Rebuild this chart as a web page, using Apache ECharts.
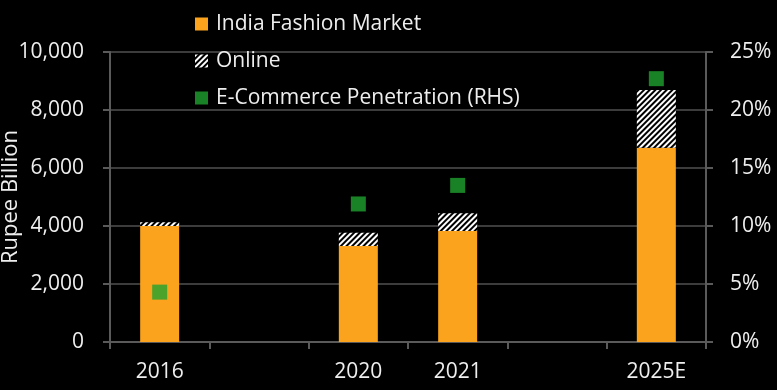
<!DOCTYPE html>
<html>
<head>
<meta charset="utf-8">
<script src="https://cdn.jsdelivr.net/npm/echarts@6/dist/echarts.min.js"></script>
<style>
html,body{margin:0;padding:0;background:#000;}
#chart{width:777px;height:390px;}
</style>
</head>
<body>
<div id="chart"></div>
<script>
var categories = ['2016', '', '2020', '2021', '', '2025E'];
var marketValues = [4000, '-', 3310, 3830, '-', 6700];
var onlineValues = [130, '-', 460, 610, '-', 1990];
var penetrationValues = [4.3, '-', 11.9, 13.5, '-', 22.7];
var leftTicks = [0, 2000, 4000, 6000, 8000, 10000];
var rightTicks = [0, 5, 10, 15, 20, 25];

var FONT = 'Open Sans';
var TXT = '#eeeeee';
var AXIS = '#5a5a5a';
var GRID = '#3c3c3c';

var chart = echarts.init(document.getElementById('chart'), null, {renderer: 'canvas'});
chart.setOption({
  backgroundColor: '#000000',
  animation: false,
  textStyle: {fontFamily: FONT},
  grid: {left: 110, right: 71, top: 52, bottom: 48, containLabel: false, outerBoundsMode: 'none'},
  legend: {
    orient: 'vertical',
    left: 190,
    top: 7,
    itemWidth: 13,
    itemHeight: 13,
    itemGap: 13,
    icon: 'rect',
    textStyle: {color: TXT, fontSize: 21, fontFamily: FONT, lineHeight: 24, padding: [0, 0, 0, 3]},
    data: ['India Fashion Market', 'Online', 'E-Commerce Penetration (RHS)']
  },
  xAxis: {
    type: 'category',
    data: categories,
    boundaryGap: true,
    axisLine: {lineStyle: {color: AXIS, width: 2}},
    axisTick: {show: true, interval: 0, length: 7, lineStyle: {color: AXIS, width: 2}},
    axisLabel: {color: TXT, fontSize: 21, fontFamily: FONT, margin: 20, interval: 0}
  },
  yAxis: [{
    type: 'value',
    min: leftTicks[0],
    max: leftTicks[leftTicks.length - 1],
    interval: leftTicks[1] - leftTicks[0],
    name: 'Rupee Billion',
    nameLocation: 'middle',
    nameGap: 88,
    nameMoveOverlap: false,
    nameTextStyle: {color: TXT, fontSize: 22, fontFamily: FONT},
    axisLine: {show: true, lineStyle: {color: AXIS, width: 2}},
    axisTick: {show: true, length: 7, lineStyle: {color: AXIS, width: 2}},
    axisLabel: {color: TXT, fontSize: 21, fontFamily: FONT, margin: 26,
      formatter: function (v) { return v.toLocaleString('en-US'); }},
    splitLine: {show: true, lineStyle: {color: GRID, width: 2}}
  }, {
    type: 'value',
    min: rightTicks[0],
    max: rightTicks[rightTicks.length - 1],
    interval: rightTicks[1] - rightTicks[0],
    position: 'right',
    axisLine: {show: true, lineStyle: {color: AXIS, width: 2}},
    axisTick: {show: true, length: 7, lineStyle: {color: AXIS, width: 2}},
    axisLabel: {color: TXT, fontSize: 21, fontFamily: FONT, margin: 24, formatter: '{value}%'},
    splitLine: {show: false}
  }],
  series: [{
    name: 'India Fashion Market',
    type: 'bar',
    stack: 'total',
    barWidth: 39,
    data: marketValues,
    itemStyle: {color: '#FBA31C'}
  }, {
    name: 'Online',
    type: 'bar',
    stack: 'total',
    barWidth: 39,
    data: onlineValues,
    itemStyle: {
      color: '#000000',
      decal: {
        symbol: 'rect',
        symbolSize: 1,
        dashArrayX: [1, 0],
        dashArrayY: [1.8, 1.6],
        rotation: -Math.PI / 4,
        color: '#ffffff'
      }
    }
  }, {
    name: 'E-Commerce Penetration (RHS)',
    type: 'scatter',
    yAxisIndex: 1,
    symbol: 'rect',
    symbolSize: 15,
    data: penetrationValues,
    itemStyle: {color: '#20A22F'},
    z: 5
  }]
});
</script>
</body>
</html>
